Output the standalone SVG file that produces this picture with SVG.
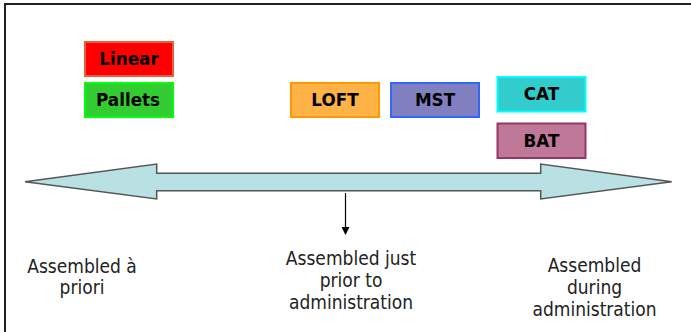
<svg xmlns="http://www.w3.org/2000/svg" width="691" height="332" viewBox="0 0 691 332">
  <style>
    .box { stroke-width: 2; }
    .lbl { font-family: "DejaVu Sans", Verdana, sans-serif; font-weight: bold; font-size: 16.8px; fill: #000; text-anchor: middle; }
    .cap { font-family: "DejaVu Sans Condensed", "DejaVu Sans", sans-serif; font-stretch: condensed; font-size: 19px; fill: #222; text-anchor: middle; }
  </style>
  <defs>
    <marker id="ah" viewBox="0 0 8 8" refX="7" refY="4" markerWidth="8" markerHeight="8" markerUnits="userSpaceOnUse" orient="auto">
      <path d="M0,0 L8,4 L0,8 Z" fill="#000"/>
    </marker>
  </defs>
  <rect width="691" height="332" fill="#fff"/>
  <path d="M5,332 V4 H691" fill="none" stroke="#222" stroke-width="2"/>

  <g id="connectors">
    <polygon id="timeline" points="25,181.7 156.7,164 156.7,173.3 540.7,173.3 540.7,164 671.7,181.7 540.7,199 540.7,190.7 156.7,190.7 156.7,199" fill="#B9E0E2" stroke="#555" stroke-width="1.5" stroke-linejoin="miter"/>
    <line x1="345.5" y1="193" x2="345.5" y2="234" stroke="#000" stroke-width="1.2" marker-end="url(#ah)"/>
  </g>

  <g id="linear">
    <rect class="box" x="85" y="42" width="88" height="34" fill="#FF0000" stroke="#E8603A"/>
    <text class="lbl" x="129" y="65">Linear</text>
  </g>
  <g id="pallets">
    <rect class="box" x="85" y="83" width="88" height="34" fill="#33CC33" stroke="#00FF00"/>
    <text class="lbl" x="128" y="106">Pallets</text>
  </g>
  <g id="loft">
    <rect class="box" x="291" y="83" width="88" height="34" fill="#FFB347" stroke="#FF9900"/>
    <text class="lbl" x="335" y="106">LOFT</text>
  </g>
  <g id="mst">
    <rect class="box" x="391" y="83" width="88" height="34" fill="#8080C0" stroke="#3366FF"/>
    <text class="lbl" x="435" y="106">MST</text>
  </g>
  <g id="cat">
    <rect class="box" x="497.5" y="77" width="88" height="34.5" fill="#33CCCC" stroke="#00FFFF"/>
    <text class="lbl" x="541.5" y="100.2">CAT</text>
  </g>
  <g id="bat">
    <rect class="box" x="497.5" y="123.5" width="88" height="34.5" fill="#C07898" stroke="#993366"/>
    <text class="lbl" x="541.5" y="146.7">BAT</text>
  </g>

  <g id="label-apriori">
    <text class="cap" x="82" y="272.5">Assembled à</text>
    <text class="cap" x="82" y="294">priori</text>
  </g>
  <g id="label-just-prior">
    <text class="cap" x="351" y="265">Assembled just</text>
    <text class="cap" x="351" y="287">prior to</text>
    <text class="cap" x="351" y="309">administration</text>
  </g>
  <g id="label-during">
    <text class="cap" x="594.5" y="271.5">Assembled</text>
    <text class="cap" x="594.5" y="293.5">during</text>
    <text class="cap" x="594.5" y="315.5">administration</text>
  </g>
</svg>
